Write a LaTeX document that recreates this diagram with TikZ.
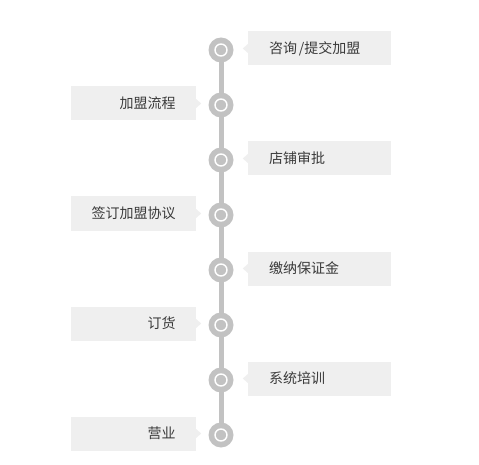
\documentclass[tikz,border=0pt]{standalone}
\usepackage{fontspec}
\newfontfamily\cjkfont{Noto Sans CJK SC}
\definecolor{dotgray}{HTML}{C2C2C2}
\definecolor{boxgray}{HTML}{EFEFEF}
\definecolor{txtgray}{HTML}{3A3A3A}
\tikzset{
  step dot/.style={circle, fill=dotgray, minimum size=25pt, inner sep=0pt},
  dot ring/.style={draw=white, line width=1.4pt},
  time line/.style={dotgray, line width=5pt},
  step box/.style={fill=boxgray, minimum height=34pt, text height=12pt, text depth=2pt, inner ysep=0pt},
  rbox/.style={step box, text width=101pt, inner xsep=21pt, align=left},
  lbox/.style={step box, text width=84pt, inner xsep=20.5pt, align=right},
}

\begin{document}
\begin{tikzpicture}[x=1pt, y=-1pt, font=\cjkfont\fontsize{14}{14}\selectfont, text=txtgray]
    \useasboundingbox (0,0) rectangle (479,465);
    \foreach \i in {1,...,8}
      \coordinate (C\i) at (221, {50+55*(\i-1)});

    % ---- time line and dots
    \draw[time line] (C1) -- (C8);
    \foreach \i in {1,...,8} {
      \node[step dot] (D\i) at (C\i) {};
      \draw[dot ring] (D\i.center) circle (6pt);
    }

    % ---- steps, odd ones right, even ones left
    \node[rbox] (S1) at (319.5, 48.5) {咨询\hspace{2pt}/提交加盟};
    \node[lbox] (S2) at (133.5, 103.5) {加盟流程};
    \node[rbox] (S3) at (319.5, 158.5) {店铺审批};
    \node[lbox] (S4) at (133.5, 213.5) {签订加盟协议};
    \node[rbox] (S5) at (319.5, 268.5) {缴纳保证金};
    \node[lbox] (S6) at (133.5, 323.5) {订货};
    \node[rbox] (S7) at (319.5, 378.5) {系统培训};
    \node[lbox] (S8) at (133.5, 433.5) {营业};

    \foreach \s in {1,3,5,7}
      \fill[boxgray] (S\s.west) ++(0,-4.5) -- ++(-5,4.5) -- ++(5,4.5) -- cycle;
    \foreach \s in {2,4,6,8}
      \fill[boxgray] (S\s.east) ++(0,-4.5) -- ++(5,4.5) -- ++(-5,4.5) -- cycle;
% ---- \draw[red] (0,0) rectangle (479,465);
\end{tikzpicture}
\end{document}
